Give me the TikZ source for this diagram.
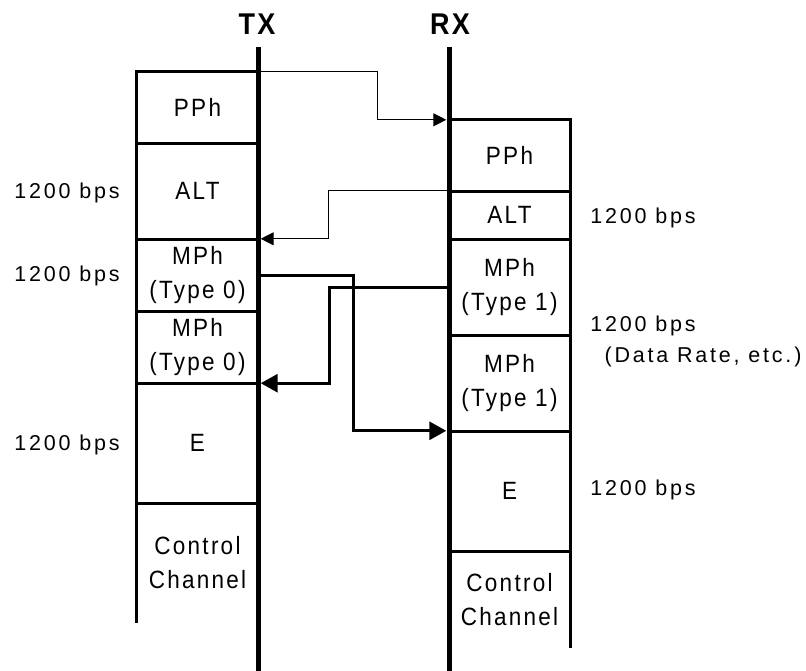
\documentclass[tikz,border=0pt]{standalone}
\usepackage{fontspec}
\setmainfont{Liberation Sans}
\newfontfamily\boxf[LetterSpace=9,FakeStretch=0.9]{Liberation Sans}
\newfontfamily\labf[LetterSpace=13]{Liberation Sans}
\newfontfamily\titf[LetterSpace=8,FakeStretch=0.9]{Liberation Sans}
\usetikzlibrary{arrows.meta}
\begin{document}
\begin{tikzpicture}[x=1pt,y=-1pt,
  cell/.style={inner sep=0pt,minimum width=121pt,align=center,
    font=\boxf\fontsize{25}{34}\selectfont},
  lab/.style={inner sep=0pt,anchor=base,font=\labf\fontsize{21.5}{26}\selectfont},
  ttl/.style={inner sep=0pt,font=\titf\bfseries\fontsize{30}{32}\selectfont},
  frame/.style={line width=3pt},
  axis/.style={line width=5pt},
  thinarrow/.style={line width=1pt,-{Triangle[length=13pt,width=13pt]},shorten >=2.5pt},
  thickarrow/.style={line width=3pt,-{Triangle[length=17pt,width=18pt]},shorten >=2.5pt}]
\useasboundingbox (0,0) rectangle (806,670);
% left stack
\node[cell,minimum height=71pt] (l1) at (197.5,107.5) {PPh};
\node[cell,minimum height=96pt] (l2) at (197.5,191) {ALT};
\node[cell,minimum height=72pt] (l3) at (197.5,275) {MPh\\(Type 0)};
\node[cell,minimum height=72pt] (l4) at (197.5,347) {MPh\\(Type 0)};
\node[cell,minimum height=120pt] (l5) at (197.5,443) {E};
\node[cell,minimum height=120pt] (l6) at (197.5,563) {Control\\Channel};
% right stack
\node[cell,minimum height=71pt] (r1) at (509.5,155.5) {PPh};
\node[cell,minimum height=48pt] (r2) at (509.5,215) {ALT};
\node[cell,minimum height=96pt] (r3) at (509.5,287) {MPh\\(Type 1)};
\node[cell,minimum height=96pt] (r4) at (509.5,383) {MPh\\(Type 1)};
\node[cell,minimum height=120pt] (r5) at (509.5,491) {E};
\node[cell,minimum height=97pt] (r6) at (509.5,599.5) {Control\\Channel};
% frames
\draw[frame] (l1.north east) -- (l1.north west) -- (l6.south west);
\foreach \n in {l1,l2,l3,l4,l5} \draw[frame] (\n.south west) -- (\n.south east);
\draw[frame] (r1.north west) -- (r1.north east) -- (r6.south east);
\foreach \n in {r1,r2,r3,r4,r5} \draw[frame] (\n.south west) -- (\n.south east);
% axes
\coordinate (txtop) at (258,47);
\coordinate (txbot) at (258,672);
\coordinate (rxtop) at (449,47);
\coordinate (rxbot) at (449,672);
\draw[axis] (txtop) -- (txbot);
\draw[axis] (rxtop) -- (rxbot);
\node[ttl] (tx) at (257,24) {TX};
\node[ttl] (rx) at (450,24) {RX};
% arrows
\draw[thinarrow] (l1.north east) -- ++(119,0) |- (r1.north west);
\draw[thinarrow] (r2.north west) -- ++(-120,0) |- (l3.north east);
\draw[thickarrow] (r3.west) -- ++(-119,0) |- (l4.south east);
\draw[thickarrow] (l3.east) -- ++(95,0) |- (r5.north west);
% labels
\node[lab] (bl1) at (67,198) {1200 bps};
\node[lab] (bl2) at (67,281) {1200 bps};
\node[lab] (bl3) at (67,450) {1200 bps};
\node[lab] (br1) at (643,223) {1200 bps};
\node[lab] (br2) at (643,331) {1200 bps};
\node[lab] (br3) at (703,362) {(Data Rate, etc.)};
\node[lab] (br4) at (643,495) {1200 bps};
\end{tikzpicture}
\end{document}
